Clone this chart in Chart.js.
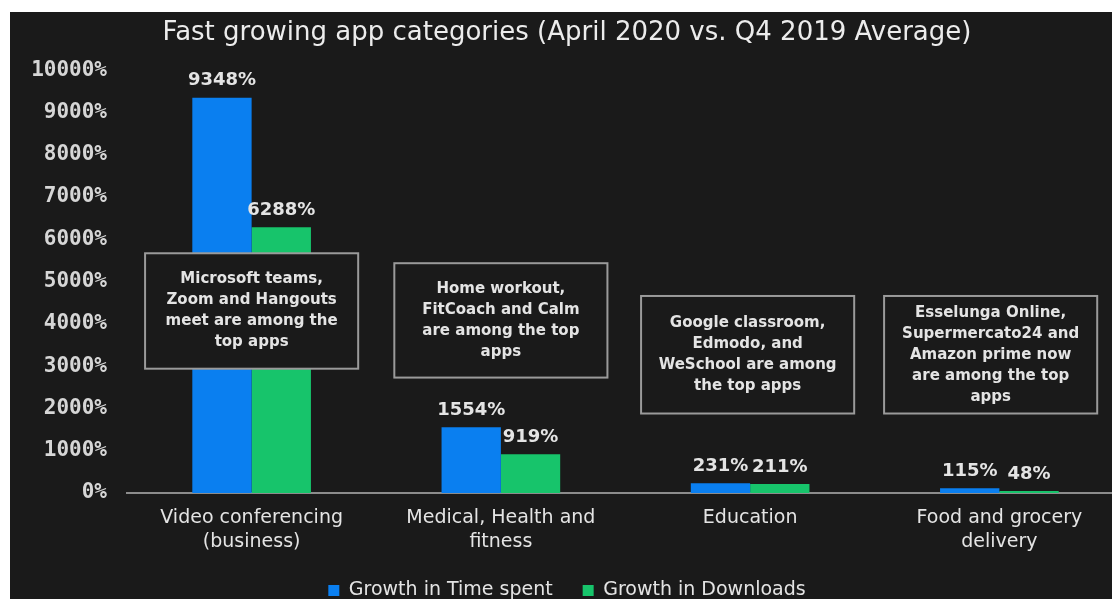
<!DOCTYPE html>
<html>
<head>
<meta charset="utf-8">
<script src="https://cdn.jsdelivr.net/npm/chart.js@4"></script>
<style>
  html, body { margin: 0; padding: 0; background: #ffffff; overflow: hidden; width: 1112px; height: 599px; }
  #wrap { position: absolute; left: 10px; top: 12px; width: 1130px; height: 598px; background: #1a1a1a; }
  #chart { display: block; }
</style>
</head>
<body>
<div id="wrap"><canvas id="chart" width="1130" height="598"></canvas></div>
<script>
// Categories (multi-line axis labels)
const categories = [
  ["Video conferencing", "(business)"],
  ["Medical, Health and", "fitness"],
  ["Education"],
  ["Food and grocery", "delivery"]
];

// Growth vs. Q4 2019 average, in percent
const timeSpent = [9348, 1554, 231, 115];
const downloads = [6288, 919, 211, 48];

const seriesNames = ["Growth in Time spent", "Growth in Downloads"];
const seriesColors = ["#0a7ff0", "#17c46b"];

const chartTitle = "Fast growing app categories (April 2020 vs. Q4 2019 Average)";

// Y axis range and step, in percent
const yMax = 10000;
const yStep = 1000;

// Call-out texts, one per category
const noteTexts = [
  ["Microsoft teams,", "Zoom and Hangouts", "meet are among the", "top apps"],
  ["Home workout,", "FitCoach and Calm", "are among the top", "apps"],
  ["Google classroom,", "Edmodo, and", "WeSchool are among", "the top apps"],
  ["Esselunga Online,", "Supermercato24 and", "Amazon prime now", "are among the top", "apps"]
];

// Call-out placement: centre on the category axis, top/bottom on the value axis
const notePlacement = [
  { x: 0.0,   top: 5670, bottom: 2940 },
  { x: 1.0,   top: 5435, bottom: 2730 },
  { x: 1.99,  top: 4660, bottom: 1880 },
  { x: 2.965, top: 4660, bottom: 1880 }
];

const textColor = "#e4e4e4";

// Value labels above each bar
const valueLabels = {
  id: "valueLabels",
  afterDatasetsDraw(chart) {
    const ctx = chart.ctx;
    ctx.save();
    ctx.font = "bold 18px 'DejaVu Sans'";
    ctx.fillStyle = textColor;
    ctx.textAlign = "center";
    ctx.textBaseline = "middle";
    chart.data.datasets.forEach((ds, di) => {
      const meta = chart.getDatasetMeta(di);
      meta.data.forEach((bar, i) => {
        ctx.fillText(ds.data[i] + "%", bar.x, bar.y - 17);
      });
    });
    ctx.restore();
  }
};

// Bordered call-out boxes drawn over the bars
const noteBoxes = {
  id: "noteBoxes",
  afterDatasetsDraw(chart) {
    const ctx = chart.ctx;
    const xs = chart.scales.x, ys = chart.scales.y;
    const catW = xs.getPixelForValue(1) - xs.getPixelForValue(0);
    const boxW = catW * 0.855;
    const lineH = 21;
    ctx.save();
    ctx.font = "bold 15px 'DejaVu Sans'";
    ctx.textAlign = "center";
    ctx.textBaseline = "middle";
    notePlacement.forEach((p, i) => {
      const i0 = Math.floor(p.x);
      const cx = xs.getPixelForValue(i0) + (p.x - i0) * catW;
      const top = ys.getPixelForValue(p.top);
      const bottom = ys.getPixelForValue(p.bottom);
      const left = cx - boxW / 2;
      ctx.fillStyle = "#1a1a1a";
      ctx.fillRect(left, top, boxW, bottom - top);
      ctx.strokeStyle = "#9a9a9a";
      ctx.lineWidth = 2;
      ctx.strokeRect(left, top, boxW, bottom - top);
      const lines = noteTexts[i];
      const midY = (top + bottom) / 2;
      const startY = midY - (lines.length - 1) * lineH / 2;
      ctx.fillStyle = textColor;
      lines.forEach((ln, k) => ctx.fillText(ln, cx, startY + k * lineH));
    });
    ctx.restore();
  }
};

new Chart(document.getElementById("chart"), {
  type: "bar",
  data: {
    labels: categories,
    datasets: [
      { label: seriesNames[0], data: timeSpent, backgroundColor: seriesColors[0] },
      { label: seriesNames[1], data: downloads, backgroundColor: seriesColors[1] }
    ]
  },
  plugins: [valueLabels, noteBoxes],
  options: {
    responsive: false,
    animation: false,
    layout: { padding: { left: 0, right: 16, top: 0, bottom: 0 } },
    datasets: { bar: { categoryPercentage: 0.476, barPercentage: 1.0 } },
    plugins: {
      title: {
        display: true,
        text: chartTitle,
        color: "#ececec",
        font: { family: "'DejaVu Sans'", size: 26, weight: "normal" },
        padding: { top: 6, bottom: 21 }
      },
      legend: {
        display: true,
        position: "bottom",
        labels: {
          color: textColor,
          font: { family: "'DejaVu Sans'", size: 19 },
          boxWidth: 11,
          boxHeight: 11,
          padding: 30
        }
      },
      tooltip: { enabled: false }
    },
    scales: {
      x: {
        grid: { display: false },
        border: { display: true, color: "#8c8c8c", width: 2 },
        ticks: {
          color: textColor,
          font: { family: "'DejaVu Sans'", size: 19, lineHeight: 1.25 },
          padding: 5,
          maxRotation: 0,
          autoSkip: false
        },
        afterFit(scale) { scale.height = 58; }
      },
      y: {
        min: 0,
        max: yMax,
        grid: { display: false },
        border: { display: false },
        ticks: {
          stepSize: yStep,
          color: "#d6d6d6",
          font: { family: "'DejaVu Sans Mono'", size: 21, weight: "bold" },
          padding: 12,
          callback: v => v + "%"
        },
        afterFit(scale) { scale.width = 117; }
      }
    }
  }
});
</script>
</body>
</html>
